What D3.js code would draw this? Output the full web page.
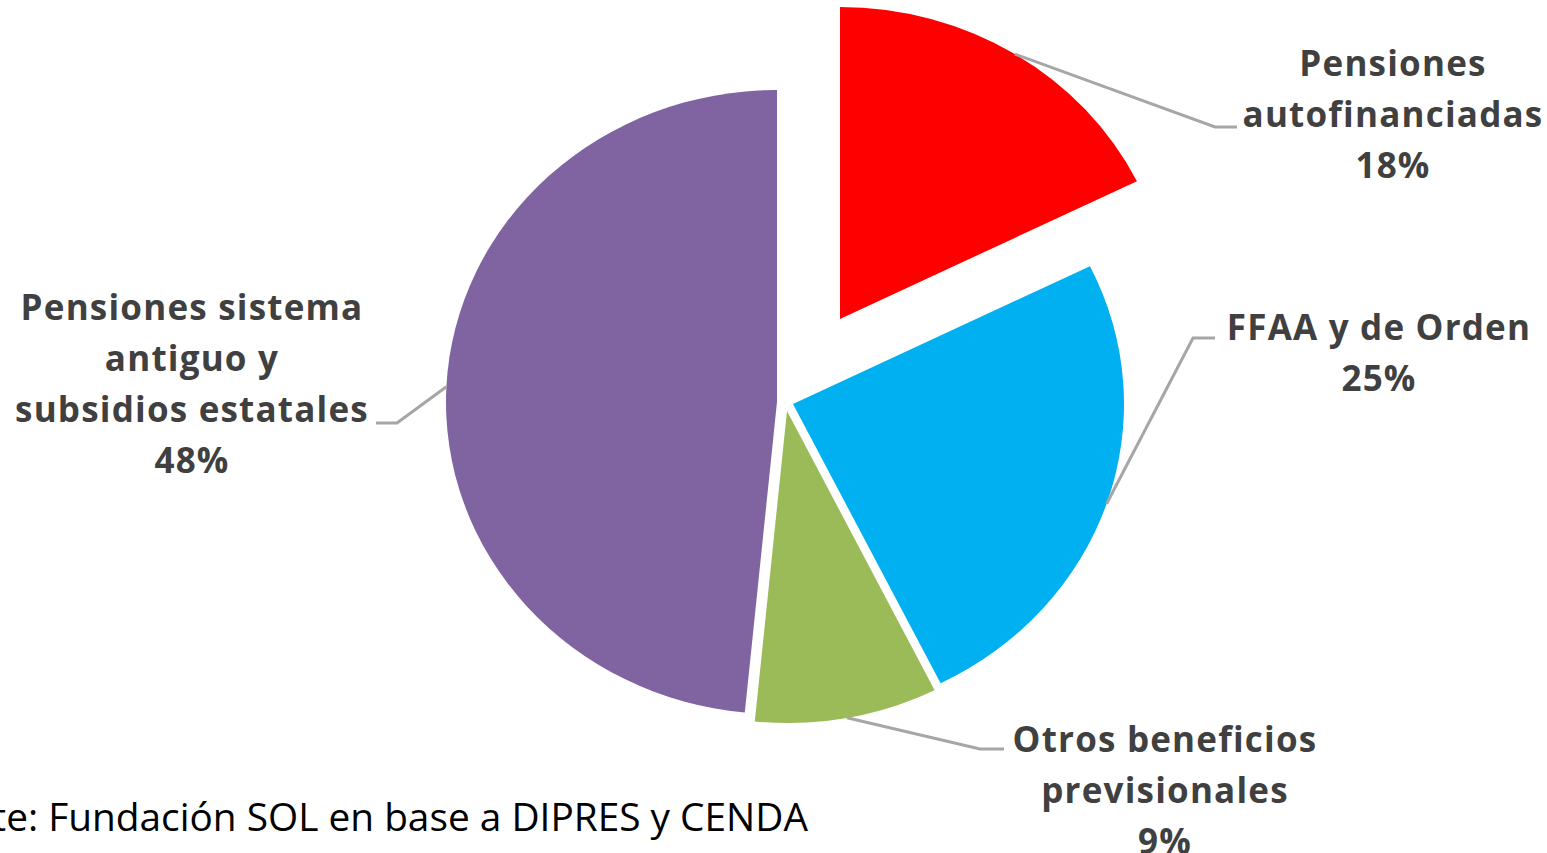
<!DOCTYPE html>
<html><head><meta charset="utf-8">
<script src="https://cdn.jsdelivr.net/npm/d3@7"></script>
<style>
html,body{margin:0;padding:0;background:#fff;overflow:hidden}
</style></head>
<body>
<svg id="chart" width="1547" height="853"></svg>
<script>
// ---- data ----
const categories = ["Pensiones autofinanciadas", "FFAA y de Orden", "Otros beneficios previsionales", "Pensiones sistema antiguo y subsidios estatales"];
const values = [17.7, 24.9, 8.9, 48.4];
const labelLines = [["Pensiones", "autofinanciadas"], ["FFAA y de Orden"], ["Otros beneficios", "previsionales"], ["Pensiones sistema", "antiguo y", "subsidios estatales"]];
const colors = ["#FF0000", "#00B0F0", "#9BBB59", "#8064A2"];
const sourceText = "Fuente: Fundación SOL en base a DIPRES y CENDA";

// ---- layout ----
const W = 1547, H = 853;
const cx = 777, cy = 402;          // pie centre
const ry = 312, rx = 331;          // pie is stretched horizontally
const offsets = [[63, -83], [16, 2], [10, 9], [0, 0]];  // explosion
const labelPos = [ // centre x, first baseline y
  {x: 1393, y: 76, bend: [1215, 127], end: [1237, 127]},
  {x: 1379, y: 340, bend: [1193, 338], end: [1215, 338]},
  {x: 1165, y: 752, bend: [980, 749], end: [1004, 749]},
  {x: 192, y: 320, bend: [397, 423], end: [376, 423]}
];
const lineH = 51;

const svg = d3.select("#chart");
const total = d3.sum(values);
const pct = d3.format(".0%");

const pie = d3.pie().sort(null).value(d => d).startAngle(0).endAngle(2 * Math.PI);
const arcs = pie(values);
const arc = d3.arc().innerRadius(0).outerRadius(ry);

const g = svg.append("g");
arcs.forEach((a, i) => {
  const ox = cx + offsets[i][0], oy = cy + offsets[i][1];
  g.append("path")
    .attr("d", arc(a))
    .attr("fill", colors[i])
    .attr("transform", `translate(${ox},${oy}) scale(${rx / ry},1)`);
});

// leader lines
arcs.forEach((a, i) => {
  const ox = cx + offsets[i][0], oy = cy + offsets[i][1];
  const mid = (a.startAngle + a.endAngle) / 2;
  const sx = ox + rx * Math.sin(mid), sy = oy - ry * Math.cos(mid);
  const L = labelPos[i];
  svg.append("path")
    .attr("d", d3.line()([[sx, sy], L.bend, L.end]))
    .attr("fill", "none")
    .attr("stroke", "#A6A6A6")
    .attr("stroke-width", 3);
});

// labels
arcs.forEach((a, i) => {
  const L = labelPos[i];
  const lines = labelLines[i].concat([pct(values[i] / total)]);
  const t = svg.append("text")
    .attr("text-anchor", "middle")
    .attr("font-family", "'Open Sans', sans-serif")
    .attr("font-weight", 700)
    .attr("font-size", 35)
    .attr("letter-spacing", 1.2)
    .attr("fill", "#404040");
  lines.forEach((s, j) => {
    t.append("tspan").attr("x", L.x).attr("y", L.y + j * lineH).text(s);
  });
});

// source
svg.append("text")
  .attr("x", 808).attr("y", 831)
  .attr("text-anchor", "end")
  .attr("font-family", "'Open Sans', sans-serif")
  .attr("font-size", 38.8)
  .attr("fill", "#000")
  .text(sourceText);
</script>
</body></html>
